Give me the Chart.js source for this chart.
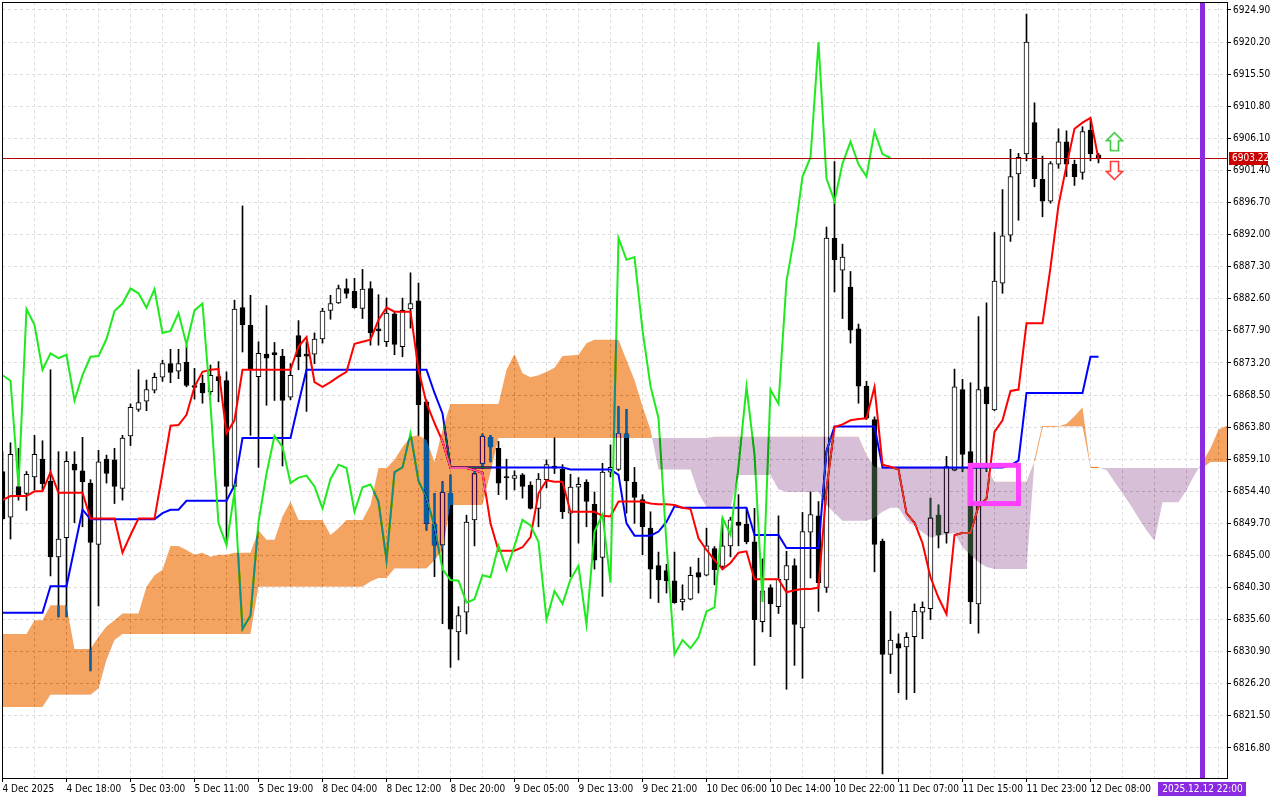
<!DOCTYPE html>
<html lang="en">
<head>
<meta charset="utf-8">
<title>Ichimoku H1</title>
<script src="https://cdn.jsdelivr.net/npm/chart.js@4.4.1/dist/chart.umd.min.js"></script>
<style>
  html, body { margin: 0; padding: 0; background: #ffffff; overflow: hidden; }
  canvas { display: block; }
</style>
</head>
<body>
<canvas id="chart" width="1280" height="800"></canvas>
<script>
// time axis: one label every 8 hourly bars, starting at bar 0
const timeLabels = ['4 Dec 2025', '4 Dec 18:00', '5 Dec 03:00', '5 Dec 11:00', '5 Dec 19:00', '8 Dec 04:00',
    '8 Dec 12:00', '8 Dec 20:00', '9 Dec 05:00', '9 Dec 13:00', '9 Dec 21:00', '10 Dec 06:00',
    '10 Dec 14:00', '10 Dec 22:00', '11 Dec 07:00', '11 Dec 15:00', '11 Dec 23:00', '12 Dec 08:00'];

const priceLabels = [6924.90, 6920.20, 6915.50, 6910.80, 6906.10, 6901.40, 6896.70, 6892.00, 6887.30,
    6882.60, 6877.90, 6873.20, 6868.50, 6863.80, 6859.10, 6854.40, 6849.70, 6845.00, 6840.30,
    6835.60, 6830.90, 6826.20, 6821.50, 6816.80];

const open = [6857.3, 6850.6, 6855.1, 6854.1, 6856.5, 6859.1, 6855.9, 6844.8, 6847.6, 6858.4,
    6857.4, 6855.6, 6846.6, 6859.1, 6859.0, 6854.8, 6862.5, 6866.4, 6867.6, 6869.2,
    6871.1, 6873.1, 6872.0, 6873.3, 6869.9, 6870.2, 6869.0, 6871.2, 6870.6, 6855.1,
    6881.3, 6878.7, 6871.2, 6874.5, 6874.7, 6874.2, 6868.2, 6877.2, 6874.5, 6874.5,
    6876.7, 6880.9, 6882.0, 6884.1, 6883.7, 6881.2, 6884.1, 6878.2, 6876.3, 6880.4,
    6875.6, 6881.1, 6882.3, 6867.5, 6849.6, 6846.5, 6854.1, 6833.8, 6836.7, 6850.2,
    6858.4, 6862.3, 6860.7, 6856.5, 6856.3, 6856.8, 6855.3, 6851.9, 6856.1, 6858.1,
    6857.6, 6851.2, 6855.0, 6855.7, 6852.5, 6844.7, 6857.2, 6857.6, 6862.8, 6855.7,
    6853.2, 6849.0, 6843.5, 6842.8, 6841.3, 6838.2, 6838.6, 6842.5, 6842.1, 6846.0,
    6843.4, 6846.4, 6849.9, 6849.6, 6847.0, 6835.3, 6840.3, 6837.5, 6841.4, 6843.5,
    6834.4, 6848.4, 6850.8, 6840.3, 6891.5, 6886.8, 6884.3, 6878.2, 6869.8, 6864.9,
    6847.1, 6830.5, 6832.1, 6831.6, 6833.1, 6836.7, 6837.2, 6850.9, 6848.3, 6857.5,
    6869.3, 6860.2, 6837.9, 6869.7, 6866.3, 6884.9, 6891.9, 6900.9, 6903.8, 6908.4,
    6900.1, 6896.9, 6902.3, 6905.6, 6902.3, 6901.1, 6907.3, 6903.7];

const high = [6860.2, 6861.5, 6860.7, 6857.3, 6862.6, 6861.8, 6872.2, 6860.2, 6860.2, 6860.2,
    6862.3, 6856.1, 6860.4, 6859.7, 6860.7, 6862.6, 6867.2, 6872.2, 6870.7, 6871.7,
    6873.6, 6875.2, 6875.2, 6875.8, 6872.4, 6871.4, 6872.9, 6873.4, 6871.9, 6882.4,
    6896.2, 6883.1, 6876.3, 6881.6, 6876.2, 6875.2, 6873.1, 6879.4, 6876.3, 6877.6,
    6881.2, 6883.1, 6884.6, 6885.5, 6885.6, 6886.9, 6885.1, 6883.2, 6882.7, 6880.7,
    6882.7, 6886.4, 6884.9, 6867.8, 6854.1, 6855.8, 6856.8, 6837.5, 6850.9, 6857.5,
    6862.8, 6862.6, 6861.7, 6859.1, 6857.4, 6857.0, 6855.8, 6857.0, 6859.0, 6862.2,
    6858.3, 6856.9, 6856.4, 6856.1, 6854.3, 6858.5, 6861.2, 6866.8, 6866.4, 6857.9,
    6853.9, 6851.4, 6845.5, 6843.7, 6845.5, 6840.7, 6843.3, 6844.6, 6849.0, 6846.3,
    6850.4, 6850.6, 6853.9, 6851.9, 6851.9, 6844.5, 6840.7, 6850.8, 6845.6, 6844.5,
    6851.3, 6854.3, 6852.9, 6893.1, 6902.7, 6890.6, 6886.6, 6878.9, 6870.5, 6865.3,
    6847.4, 6836.8, 6833.5, 6833.7, 6837.9, 6838.2, 6853.4, 6852.4, 6859.5, 6872.3,
    6870.8, 6870.3, 6880.0, 6882.0, 6892.3, 6898.6, 6904.5, 6903.9, 6924.3, 6911.3,
    6903.5, 6902.7, 6907.5, 6907.2, 6902.9, 6907.8, 6909.0, 6903.9];

const low = [6850.2, 6847.4, 6853.1, 6851.6, 6854.6, 6854.6, 6842.0, 6836.0, 6836.0, 6849.8,
    6849.2, 6828.1, 6837.6, 6855.6, 6852.6, 6853.1, 6861.1, 6866.1, 6866.2, 6868.8,
    6870.5, 6870.3, 6870.9, 6869.7, 6867.9, 6867.3, 6868.5, 6867.5, 6846.8, 6854.6,
    6874.8, 6862.6, 6857.9, 6867.0, 6867.7, 6858.1, 6867.8, 6872.2, 6866.1, 6873.1,
    6876.1, 6879.6, 6881.9, 6882.7, 6881.2, 6879.7, 6875.8, 6875.8, 6875.6, 6874.4,
    6874.1, 6878.3, 6862.6, 6848.7, 6841.9, 6835.0, 6828.6, 6829.7, 6833.5, 6846.4,
    6857.8, 6858.7, 6853.9, 6853.2, 6854.6, 6853.4, 6851.8, 6849.2, 6854.9, 6857.0,
    6850.4, 6841.9, 6846.8, 6849.2, 6843.0, 6839.0, 6856.5, 6857.4, 6851.2, 6849.7,
    6845.1, 6838.7, 6838.1, 6839.5, 6838.0, 6837.0, 6838.5, 6839.5, 6842.0, 6840.7,
    6842.9, 6844.8, 6846.4, 6846.7, 6828.9, 6833.8, 6833.1, 6836.5, 6825.4, 6828.9,
    6827.0, 6841.7, 6836.8, 6839.6, 6883.6, 6879.7, 6876.1, 6867.3, 6864.9, 6842.6,
    6813.0, 6827.7, 6824.9, 6823.9, 6824.9, 6832.8, 6835.6, 6846.1, 6846.8, 6857.4,
    6857.3, 6835.0, 6833.6, 6857.3, 6866.2, 6883.4, 6891.0, 6894.1, 6902.8, 6899.0,
    6894.6, 6896.6, 6901.7, 6900.5, 6899.2, 6900.1, 6902.8, 6902.5];

const close = [6850.4, 6859.8, 6853.9, 6856.9, 6859.8, 6855.5, 6844.8, 6847.4, 6858.8, 6857.5,
    6855.8, 6846.9, 6858.7, 6857.0, 6855.1, 6862.2, 6866.7, 6867.4, 6869.3, 6871.1,
    6873.1, 6871.8, 6873.1, 6869.9, 6869.6, 6868.8, 6871.4, 6870.6, 6855.1, 6881.1,
    6878.8, 6872.2, 6874.6, 6873.9, 6874.4, 6867.7, 6871.4, 6874.1, 6874.2, 6876.7,
    6880.8, 6881.9, 6884.1, 6883.4, 6881.3, 6884.0, 6877.6, 6877.9, 6880.5, 6875.9,
    6880.9, 6881.9, 6867.1, 6849.7, 6846.5, 6854.3, 6834.2, 6836.2, 6849.9, 6857.0,
    6862.5, 6860.9, 6855.6, 6856.4, 6856.7, 6855.1, 6851.9, 6856.2, 6858.3, 6857.8,
    6851.4, 6855.0, 6855.4, 6852.9, 6844.3, 6857.2, 6857.9, 6862.9, 6855.9, 6853.5,
    6849.2, 6843.0, 6841.4, 6841.3, 6838.1, 6838.6, 6842.1, 6841.8, 6846.4, 6842.9,
    6846.4, 6850.2, 6849.4, 6847.0, 6835.6, 6839.8, 6837.9, 6841.5, 6843.5, 6834.9,
    6848.5, 6851.0, 6841.0, 6891.5, 6888.3, 6888.7, 6878.0, 6869.8, 6865.1, 6846.6,
    6830.5, 6832.6, 6831.4, 6833.0, 6836.8, 6837.4, 6850.5, 6848.0, 6858.0, 6869.7,
    6859.8, 6838.2, 6869.3, 6867.2, 6885.2, 6891.8, 6900.5, 6903.3, 6920.2, 6900.2,
    6896.9, 6902.4, 6905.6, 6902.3, 6900.5, 6907.1, 6903.8, 6903.22];

const tenkan = [6853.1, 6853.7, 6853.7, 6853.7, 6854.4, 6854.4, 6857.2, 6854.2, 6854.2, 6854.2,
    6854.2, 6850.4, 6850.4, 6850.4, 6850.4, 6845.4, 6848.0, 6850.4, 6850.4, 6850.4,
    6857.1, 6864.0, 6864.1, 6865.6, 6869.7, 6871.9, 6872.2, 6872.3, 6862.9, 6864.8,
    6872.2, 6872.2, 6872.2, 6872.2, 6872.2, 6872.2, 6872.2, 6875.6, 6877.0, 6870.4,
    6869.7, 6870.4, 6871.2, 6871.9, 6876.0, 6876.3, 6876.6, 6879.5, 6881.3, 6880.7,
    6880.7, 6880.7, 6872.2, 6867.3, 6864.4, 6861.7, 6857.8, 6857.8, 6857.8, 6857.5,
    6857.1, 6849.7, 6845.7, 6845.7, 6845.7, 6846.2, 6847.7, 6854.1, 6856.0, 6855.8,
    6855.8, 6851.4, 6851.4, 6851.4, 6851.4, 6850.8, 6850.7, 6852.9, 6852.9, 6852.9,
    6852.9, 6852.6, 6852.5, 6852.5, 6852.4, 6852.0, 6851.8, 6847.5, 6845.8, 6844.3,
    6843.0, 6843.9, 6845.4, 6845.6, 6841.5, 6841.5, 6841.5, 6841.5, 6839.6, 6839.9,
    6840.1, 6840.1, 6840.3, 6854.7, 6863.8, 6864.2, 6864.8, 6865.0, 6865.1, 6869.7,
    6858.3, 6858.0, 6857.6, 6851.2, 6849.8, 6846.8, 6841.8, 6838.8, 6836.4, 6848.0,
    6848.3, 6848.3, 6852.2, 6853.3, 6863.1, 6864.8, 6869.1, 6869.3, 6879.0, 6879.0,
    6879.0, 6887.2, 6896.3, 6902.1, 6907.5, 6908.4, 6909.1, 6903.0];

const kijun = [6836.6, 6836.6, 6836.6, 6836.6, 6836.6, 6836.6, 6840.5, 6840.5, 6840.5, 6846.1,
    6851.7, 6850.3, 6850.3, 6850.3, 6850.3, 6850.3, 6850.3, 6850.3, 6850.3, 6850.3,
    6851.2, 6851.7, 6851.7, 6853.0, 6853.0, 6853.0, 6853.0, 6853.0, 6853.0, 6855.3,
    6862.2, 6862.2, 6862.2, 6862.2, 6862.2, 6862.2, 6862.2, 6867.3, 6872.2, 6872.2,
    6872.2, 6872.2, 6872.2, 6872.2, 6872.2, 6872.2, 6872.2, 6872.2, 6872.2, 6872.2,
    6872.2, 6872.2, 6872.2, 6872.2, 6868.8, 6865.8, 6857.9, 6857.9, 6857.9, 6857.9,
    6857.9, 6857.9, 6857.9, 6857.9, 6857.9, 6857.9, 6857.9, 6857.9, 6857.9, 6857.9,
    6857.9, 6857.6, 6857.6, 6857.6, 6857.6, 6857.6, 6857.6, 6856.8, 6849.7, 6847.9,
    6847.9, 6847.9, 6848.5, 6849.9, 6852.2, 6852.0, 6852.0, 6852.0, 6852.0, 6852.0,
    6852.0, 6852.0, 6852.0, 6852.0, 6848.0, 6848.0, 6848.0, 6848.0, 6846.1, 6846.1,
    6846.1, 6846.1, 6846.1, 6860.3, 6863.9, 6863.9, 6863.9, 6863.9, 6863.9, 6863.9,
    6857.9, 6857.9, 6857.9, 6857.9, 6857.9, 6857.9, 6857.9, 6857.9, 6857.9, 6857.9,
    6857.9, 6857.9, 6857.9, 6857.9, 6857.9, 6857.9, 6858.2, 6858.9, 6868.8, 6868.8,
    6868.8, 6868.8, 6868.8, 6868.8, 6868.8, 6868.8, 6874.1, 6874.1];

// cloud edges, already shifted 26 bars ahead (runs past the last candle)
const senkouA = [6833.5, 6833.5, 6833.5, 6833.5, 6835.5, 6835.5, 6837.7, 6837.7, 6837.7, 6831.3,
    6831.3, 6831.3, 6833.1, 6834.6, 6835.5, 6836.5, 6836.5, 6836.5, 6840.4, 6842.1,
    6842.9, 6846.4, 6846.4, 6845.8, 6845.1, 6845.4, 6844.8, 6845.1, 6845.1, 6845.4,
    6845.4, 6845.4, 6848.7, 6847.3, 6847.3, 6850.7, 6852.9, 6850.2, 6850.2, 6850.2,
    6850.2, 6848.0, 6849.0, 6850.2, 6850.2, 6850.2, 6852.4, 6857.8, 6857.8, 6859.0,
    6860.9, 6862.4, 6862.6, 6861.9, 6858.7, 6863.4, 6867.2, 6867.2, 6867.2, 6867.2,
    6867.2, 6867.2, 6867.2, 6872.2, 6874.5, 6871.7, 6871.1, 6871.4, 6871.9, 6872.5,
    6874.2, 6874.3, 6874.4, 6876.1, 6876.6, 6876.6, 6876.6, 6876.6, 6873.6, 6870.7,
    6866.8, 6863.4, 6857.6, 6857.6, 6857.6, 6857.6, 6857.6, 6854.1, 6852.1, 6852.1,
    6852.1, 6852.1, 6856.8, 6856.8, 6856.8, 6856.8, 6856.8, 6854.7, 6854.3, 6854.3,
    6854.3, 6854.3, 6854.3, 6852.4, 6851.2, 6850.1, 6850.1, 6850.1, 6850.1, 6850.5,
    6851.4, 6852.0, 6852.0, 6850.2, 6849.3, 6848.4, 6847.6, 6847.9, 6848.1, 6848.3,
    6846.2, 6845.1, 6844.0, 6843.3, 6843.0, 6843.0, 6843.0, 6843.0, 6843.0, 6858.8,
    6863.9, 6863.9, 6863.9, 6864.3, 6865.4, 6866.7, 6857.9, 6857.9, 6857.5, 6855.8,
    6854.1, 6852.4, 6850.5, 6848.7, 6847.1, 6852.8, 6852.8, 6852.8, 6854.6, 6856.8,
    6858.7, 6860.7, 6863.4, 6864.0, 6864.0];

const senkouB = [6822.8, 6822.8, 6822.8, 6822.8, 6822.8, 6822.8, 6824.6, 6824.6, 6824.6, 6824.6,
    6824.6, 6824.6, 6825.5, 6829.7, 6832.6, 6833.5, 6833.5, 6833.5, 6833.5, 6833.5,
    6833.5, 6833.5, 6833.5, 6833.5, 6833.5, 6833.5, 6833.5, 6833.5, 6833.5, 6833.5,
    6833.5, 6833.5, 6840.4, 6840.4, 6840.4, 6840.4, 6840.4, 6840.4, 6840.4, 6840.4,
    6840.4, 6840.4, 6840.4, 6840.4, 6840.4, 6840.4, 6841.2, 6841.7, 6841.7, 6843.1,
    6843.1, 6843.1, 6843.1, 6843.1, 6844.3, 6845.8, 6852.4, 6852.4, 6852.4, 6852.4,
    6852.4, 6857.2, 6862.2, 6862.2, 6862.2, 6862.2, 6862.2, 6862.2, 6862.2, 6862.2,
    6862.2, 6862.2, 6862.2, 6862.2, 6862.2, 6862.2, 6862.2, 6862.2, 6862.2, 6862.2,
    6862.2, 6862.2, 6862.2, 6862.2, 6862.2, 6862.2, 6862.2, 6862.2, 6862.2, 6862.4,
    6862.4, 6862.4, 6862.4, 6862.4, 6862.4, 6862.4, 6862.4, 6862.4, 6862.4, 6862.4,
    6862.4, 6862.4, 6862.4, 6862.4, 6862.4, 6862.4, 6862.4, 6862.4, 6859.7, 6858.0,
    6857.8, 6857.8, 6857.8, 6857.8, 6857.8, 6857.8, 6857.8, 6857.8, 6857.8, 6857.8,
    6857.8, 6857.8, 6857.8, 6857.8, 6855.8, 6855.8, 6855.8, 6855.8, 6855.8, 6858.8,
    6863.9, 6863.9, 6863.9, 6863.9, 6863.9, 6863.9, 6857.8, 6857.8, 6857.8, 6857.8,
    6857.8, 6857.8, 6857.8, 6857.8, 6857.8, 6857.8, 6857.8, 6857.8, 6857.8, 6857.8,
    6857.8, 6858.7, 6858.7, 6858.7, 6858.7];

const chikouShift = 26;          // lagging span = close drawn 26 bars back
const bidPrice = 6903.22;
const markerBar = 150;
const markerText = '2025.12.12 22:00';
const boxBars = [121, 127];
const boxPrices = [6858.2, 6852.6];
const arrowBar = 139;
const arrowPrices = [6905.6, 6901.4];

// MT5 paints the cloud by XOR; 'difference' with the inverted colours gives the same look
const SANDY_X = 'rgb(11,91,159)';     // sandy brown on white
const THISTLE_X = 'rgb(39,64,39)';    // thistle on white

const pts = arr => arr.map((v, i) => ({ x: i, y: v }));

function pickFont() {
    const c = document.createElement('canvas').getContext('2d');
    const w = f => { c.font = '20px ' + f; return c.measureText('6924.90 Dec').width; };
    const base = w('monospace');
    if (w('"Liberation Sans Narrow", monospace') !== base) return { family: '"Liberation Sans Narrow"', size: 11 };
    if (w('"DejaVu Sans Condensed", monospace') !== base) return { family: '"DejaVu Sans Condensed"', size: 10 };
    return { family: '"DejaVu Sans"', size: 9 };
}
const axisFont = pickFont();

function makeArrow(up, stroke) {
    const c = document.createElement('canvas');
    c.width = 19;
    c.height = 21;
    const g = c.getContext('2d');
    const shape = [[9.5, 1.5], [17.5, 9.5], [13.5, 9.5], [13.5, 19.5], [5.5, 19.5], [5.5, 9.5], [1.5, 9.5]];
    g.beginPath();
    shape.forEach(([px, py], k) => {
        const yy = up ? py : 21 - py;
        if (k === 0) g.moveTo(px, yy); else g.lineTo(px, yy);
    });
    g.closePath();
    g.fillStyle = '#ffffff';
    g.fill();
    g.lineWidth = 1.6;
    g.strokeStyle = stroke;
    g.stroke();
    return c;
}

const wickData = close.map((c, i) => ({ x: i, y: [low[i], high[i]] }));
const bodyData = close.map((c, i) => ({ x: i, y: [Math.min(open[i], c), Math.max(open[i], c)] }));
const bodyColors = close.map((c, i) => c >= open[i] ? '#ffffff' : '#000000');
const chikouData = close.slice(chikouShift).map((v, i) => ({ x: i, y: v }));
const gridBars = [];
for (let b = 0; b <= 152; b += 4) gridBars.push(b);

const ARROW_INDEX = 7;

const overlay = {
    id: 'overlay',
    beforeDraw(chart) {
        const { ctx, width, height } = chart;
        ctx.save();
        ctx.fillStyle = '#ffffff';
        ctx.fillRect(0, 0, width, height);
        ctx.restore();
    },
    afterDatasetDraw(chart, args) {
        if (args.index === ARROW_INDEX) chart.ctx.globalCompositeOperation = 'difference';
    },
    afterDatasetsDraw(chart) {
        const { ctx, chartArea: a, scales: { x, y } } = chart;
        ctx.globalCompositeOperation = 'source-over';
        ctx.save();
        ctx.beginPath();
        ctx.rect(a.left, a.top, a.right - a.left, a.bottom - a.top);
        ctx.clip();

        const by = Math.round(y.getPixelForValue(bidPrice)) + 0.5;
        ctx.strokeStyle = '#b40000';
        ctx.lineWidth = 1;
        ctx.beginPath();
        ctx.moveTo(a.left, by);
        ctx.lineTo(a.right, by);
        ctx.stroke();

        const x0 = x.getPixelForValue(boxBars[0]);
        const x1 = x.getPixelForValue(boxBars[1]);
        const y0 = y.getPixelForValue(boxPrices[0]);
        const y1 = y.getPixelForValue(boxPrices[1]);
        ctx.strokeStyle = '#ff40ff';
        ctx.lineWidth = 5;
        ctx.strokeRect(x0, y0, x1 - x0, y1 - y0);

        const vx = x.getPixelForValue(markerBar);
        ctx.fillStyle = '#8a2be2';
        ctx.fillRect(vx - 2.5, a.top, 5, a.bottom - a.top);
        ctx.restore();
    },
    afterDraw(chart) {
        const { ctx, chartArea: a, scales: { x, y } } = chart;
        ctx.save();
        ctx.strokeStyle = '#000000';
        ctx.lineWidth = 1;
        ctx.strokeRect(a.left + 0.5, a.top + 0.5, a.right - a.left, a.bottom - a.top);

        ctx.font = axisFont.size + 'px ' + axisFont.family;
        ctx.textBaseline = 'middle';

        const vx = x.getPixelForValue(markerBar);
        const tw = ctx.measureText(markerText).width + 8;
        ctx.fillStyle = '#8a2be2';
        ctx.fillRect(Math.round(vx - tw / 2), a.bottom + 4, Math.round(tw), 14);
        ctx.fillStyle = '#ffffff';
        ctx.textAlign = 'center';
        ctx.fillText(markerText, vx, a.bottom + 11.5);

        const by = Math.round(y.getPixelForValue(bidPrice));
        ctx.fillStyle = '#cc0000';
        ctx.fillRect(a.right + 2, by - 6, 39, 13);
        ctx.fillStyle = '#ffffff';
        ctx.textAlign = 'left';
        ctx.fillText(bidPrice.toFixed(2), a.right + 5, by + 0.5);
        ctx.restore();
    }
};

const lineSet = (data, color, order) => ({
    type: 'line',
    data,
    borderColor: color,
    borderWidth: 2,
    pointRadius: 0,
    tension: 0,
    fill: false,
    order
});

const thin = (i, j) => Math.abs(senkouA[i] - senkouB[i]) < 0.25 && Math.abs(senkouA[j] - senkouB[j]) < 0.25;

new Chart(document.getElementById('chart'), {
    type: 'bar',
    data: {
        datasets: [
            {
                type: 'line',
                data: pts(senkouA),
                borderWidth: 1,
                segment: {
                    borderColor: c => thin(c.p0DataIndex, c.p1DataIndex)
                        ? (senkouA[c.p1DataIndex] >= senkouB[c.p1DataIndex] ? SANDY_X : THISTLE_X)
                        : 'rgba(0,0,0,0)'
                },
                pointRadius: 0,
                tension: 0,
                fill: { target: '+1', above: SANDY_X, below: THISTLE_X },
                order: 1
            },
            {
                type: 'line',
                data: pts(senkouB),
                borderWidth: 0,
                borderColor: 'rgba(0,0,0,0)',
                pointRadius: 0,
                tension: 0,
                fill: false,
                order: 1
            },
            {
                data: wickData,
                backgroundColor: '#000000',
                barThickness: 1,
                grouped: false,
                order: 7
            },
            {
                data: bodyData,
                backgroundColor: bodyColors,
                borderColor: '#000000',
                borderWidth: 1,
                borderSkipped: false,
                barThickness: 5,
                minBarLength: 1,
                grouped: false,
                order: 6
            },
            lineSet(pts(kijun), '#0000ff', 5),
            lineSet(pts(tenkan), '#ff0000', 4),
            lineSet(chikouData, '#1eea1e', 3),
            {
                type: 'line',
                data: [{ x: arrowBar, y: arrowPrices[0] }, { x: arrowBar, y: arrowPrices[1] }],
                showLine: false,
                pointStyle: [makeArrow(true, '#3cc83c'), makeArrow(false, '#ff3c3c')],
                pointRadius: 10,
                clip: false,
                order: 2
            }
        ]
    },
    options: {
        responsive: false,
        devicePixelRatio: 1,
        animation: false,
        layout: { autoPadding: false, padding: { left: 2, top: 2, right: 0, bottom: 0 } },
        plugins: {
            legend: { display: false },
            tooltip: { enabled: false }
        },
        scales: {
            x: {
                type: 'linear',
                min: -0.0625,
                max: 153.0625,
                offset: false,
                afterBuildTicks: s => { s.ticks = gridBars.map(v => ({ value: v })); },
                afterFit: s => { s.height = 22; s.paddingLeft = 0; s.paddingRight = 0; },
                ticks: {
                    autoSkip: false,
                    maxRotation: 0,
                    minRotation: 0,
                    align: 'start',
                    padding: 1,
                    color: '#000000',
                    font: axisFont,
                    callback: v => (v % 8 === 0 && timeLabels[v / 8]) ? timeLabels[v / 8] : ''
                },
                grid: {
                    offset: false,
                    color: '#dcdcdc',
                    tickLength: 4,
                    tickColor: c => (c.tick && c.tick.value % 8 === 0 && timeLabels[c.tick.value / 8]) ? '#000000' : 'rgba(0,0,0,0)'
                },
                border: { display: false, dash: [3, 3] }
            },
            y: {
                type: 'linear',
                position: 'right',
                min: 6812.40,
                max: 6926.07,
                afterBuildTicks: s => { s.ticks = priceLabels.map(v => ({ value: v })); },
                afterFit: s => { s.width = 53; s.paddingTop = 0; s.paddingBottom = 0; },
                ticks: {
                    autoSkip: false,
                    padding: 2,
                    color: '#000000',
                    font: axisFont,
                    callback: v => v.toFixed(2)
                },
                grid: { color: '#dcdcdc', tickLength: 4, tickColor: '#000000' },
                border: { display: false, dash: [3, 3] }
            }
        }
    },
    plugins: [overlay]
});
</script>
</body>
</html>
